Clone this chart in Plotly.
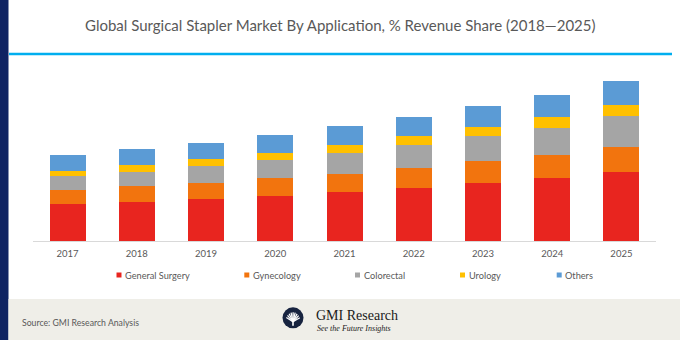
import math
import plotly.graph_objects as go

years = ["2017", "2018", "2019", "2020", "2021", "2022", "2023", "2024", "2025"]
general_surgery = [36.8, 39.5, 42.2, 45.2, 48.8, 52.8, 57.8, 62.8, 69.5]
gynecology = [14.7, 15.7, 16.3, 17.6, 18.7, 20.7, 22.0, 23.4, 24.3]
colorectal = [13.3, 14.3, 17.0, 18.4, 20.7, 22.3, 25.0, 27.3, 31.4]
urology = [5.7, 6.3, 6.3, 7.0, 8.3, 9.0, 9.0, 11.0, 10.6]
others = [15.7, 16.0, 16.4, 18.0, 18.3, 19.7, 21.4, 22.0, 24.0]

series_names = ["General Surgery", "Gynecology", "Colorectal", "Urology", "Others"]
series_values = [general_surgery, gynecology, colorectal, urology, others]
colors = ["#E8251F", "#F2740E", "#A5A5A5", "#FFC000", "#5B9BD5"]

title_text = "Global Surgical Stapler Market By Application, % Revenue Share (2018\u20142025)"

W_FIG, H_FIG = 680, 340
L, R, T, B = 33, 24, 61, 99
PW = W_FIG - L - R
PH = H_FIG - T - B


def px(x):
    return (x - L) / PW


def py(y):
    return (T + PH - y) / PH


fig = go.Figure()
for name, vals, col in zip(series_names, series_values, colors):
    fig.add_trace(go.Bar(x=years, y=vals, name=name, marker_color=col,
                         marker_line_width=0, showlegend=False))

shapes = []
# left navy stripe
shapes.append(dict(type="rect", xref="paper", yref="paper", x0=px(0), x1=px(8.5),
                   y0=py(H_FIG), y1=py(0), fillcolor="#0F2362", line_width=0, layer="below"))
# blue rule under title
shapes.append(dict(type="rect", xref="paper", yref="paper", x0=px(9), x1=px(672),
                   y0=py(55.3), y1=py(52.7), fillcolor="#00AEEF", line_width=0, layer="below"))
# footer band
shapes.append(dict(type="rect", xref="paper", yref="paper", x0=px(8.5), x1=px(W_FIG),
                   y0=py(H_FIG), y1=py(299), fillcolor="#EFEEE8", line_width=0, layer="below"))
# logo circle
cx, cy, r = 293, 317.8, 10.5
shapes.append(dict(type="circle", xref="paper", yref="paper", x0=px(cx - r), x1=px(cx + r),
                   y0=py(cy + r), y1=py(cy - r), fillcolor="#17233F", line_width=0))
# fan in logo
for a in range(25, 160, 16):
    ang = math.radians(a)
    shapes.append(dict(type="line", xref="paper", yref="paper",
                       x0=px(cx), y0=py(cy + 4),
                       x1=px(cx + 7.5 * math.cos(ang)), y1=py(cy + 4 - 9.5 * math.sin(ang)),
                       line=dict(color="white", width=1.3)))
shapes.append(dict(type="line", xref="paper", yref="paper", x0=px(cx), y0=py(cy + 4),
                   x1=px(cx), y1=py(cy + 8), line=dict(color="white", width=1.6)))

annotations = []
annotations.append(dict(text=title_text, xref="paper", yref="paper", x=px(340), y=py(25),
                        xanchor="center", yanchor="middle", showarrow=False,
                        font=dict(family="Lato", size=15, color="#595959")))

# legend drawn manually
leg_sq_x = [116.5, 244.3, 355, 460, 556.7]
leg_y = 275
for name, col, lx in zip(series_names, colors, leg_sq_x):
    shapes.append(dict(type="rect", xref="paper", yref="paper", x0=px(lx), x1=px(lx + 5),
                       y0=py(leg_y + 2.5), y1=py(leg_y - 2.5), fillcolor=col, line_width=0))
    annotations.append(dict(text=name, xref="paper", yref="paper", x=px(lx + 6.5), y=py(leg_y),
                            xanchor="left", yanchor="middle", showarrow=False,
                            font=dict(family="Lato", size=9.2, color="#595959")))

annotations.append(dict(text="Source: GMI Research Analysis", xref="paper", yref="paper",
                        x=px(19.5), y=py(322.5), xanchor="left", yanchor="middle", showarrow=False,
                        font=dict(family="Lato", size=8.7, color="#595959")))
annotations.append(dict(text="GMI Research", xref="paper", yref="paper",
                        x=px(314), y=py(315.5), xanchor="left", yanchor="middle", showarrow=False,
                        font=dict(family="Liberation Serif", size=14, color="#1A1A1A")))
annotations.append(dict(text="<i>See the Future Insights</i>", xref="paper", yref="paper",
                        x=px(315), y=py(328.3), xanchor="left", yanchor="middle", showarrow=False,
                        font=dict(family="Liberation Serif", size=8, color="#1A1A1A")))

fig.update_layout(
    width=W_FIG, height=H_FIG,
    margin=dict(l=L, r=R, t=T, b=B),
    barmode="stack", bargap=0.48,
    paper_bgcolor="white", plot_bgcolor="white",
    shapes=shapes, annotations=annotations,
    xaxis=dict(showline=True, linecolor="#D9D9D9", linewidth=1, showgrid=False,
               ticks="", ticklabelstandoff=4,
               tickfont=dict(family="Lato", size=9.5, color="#595959")),
    yaxis=dict(range=[0, PH], visible=False, showgrid=False),
)

fig.write_html("out.html")
